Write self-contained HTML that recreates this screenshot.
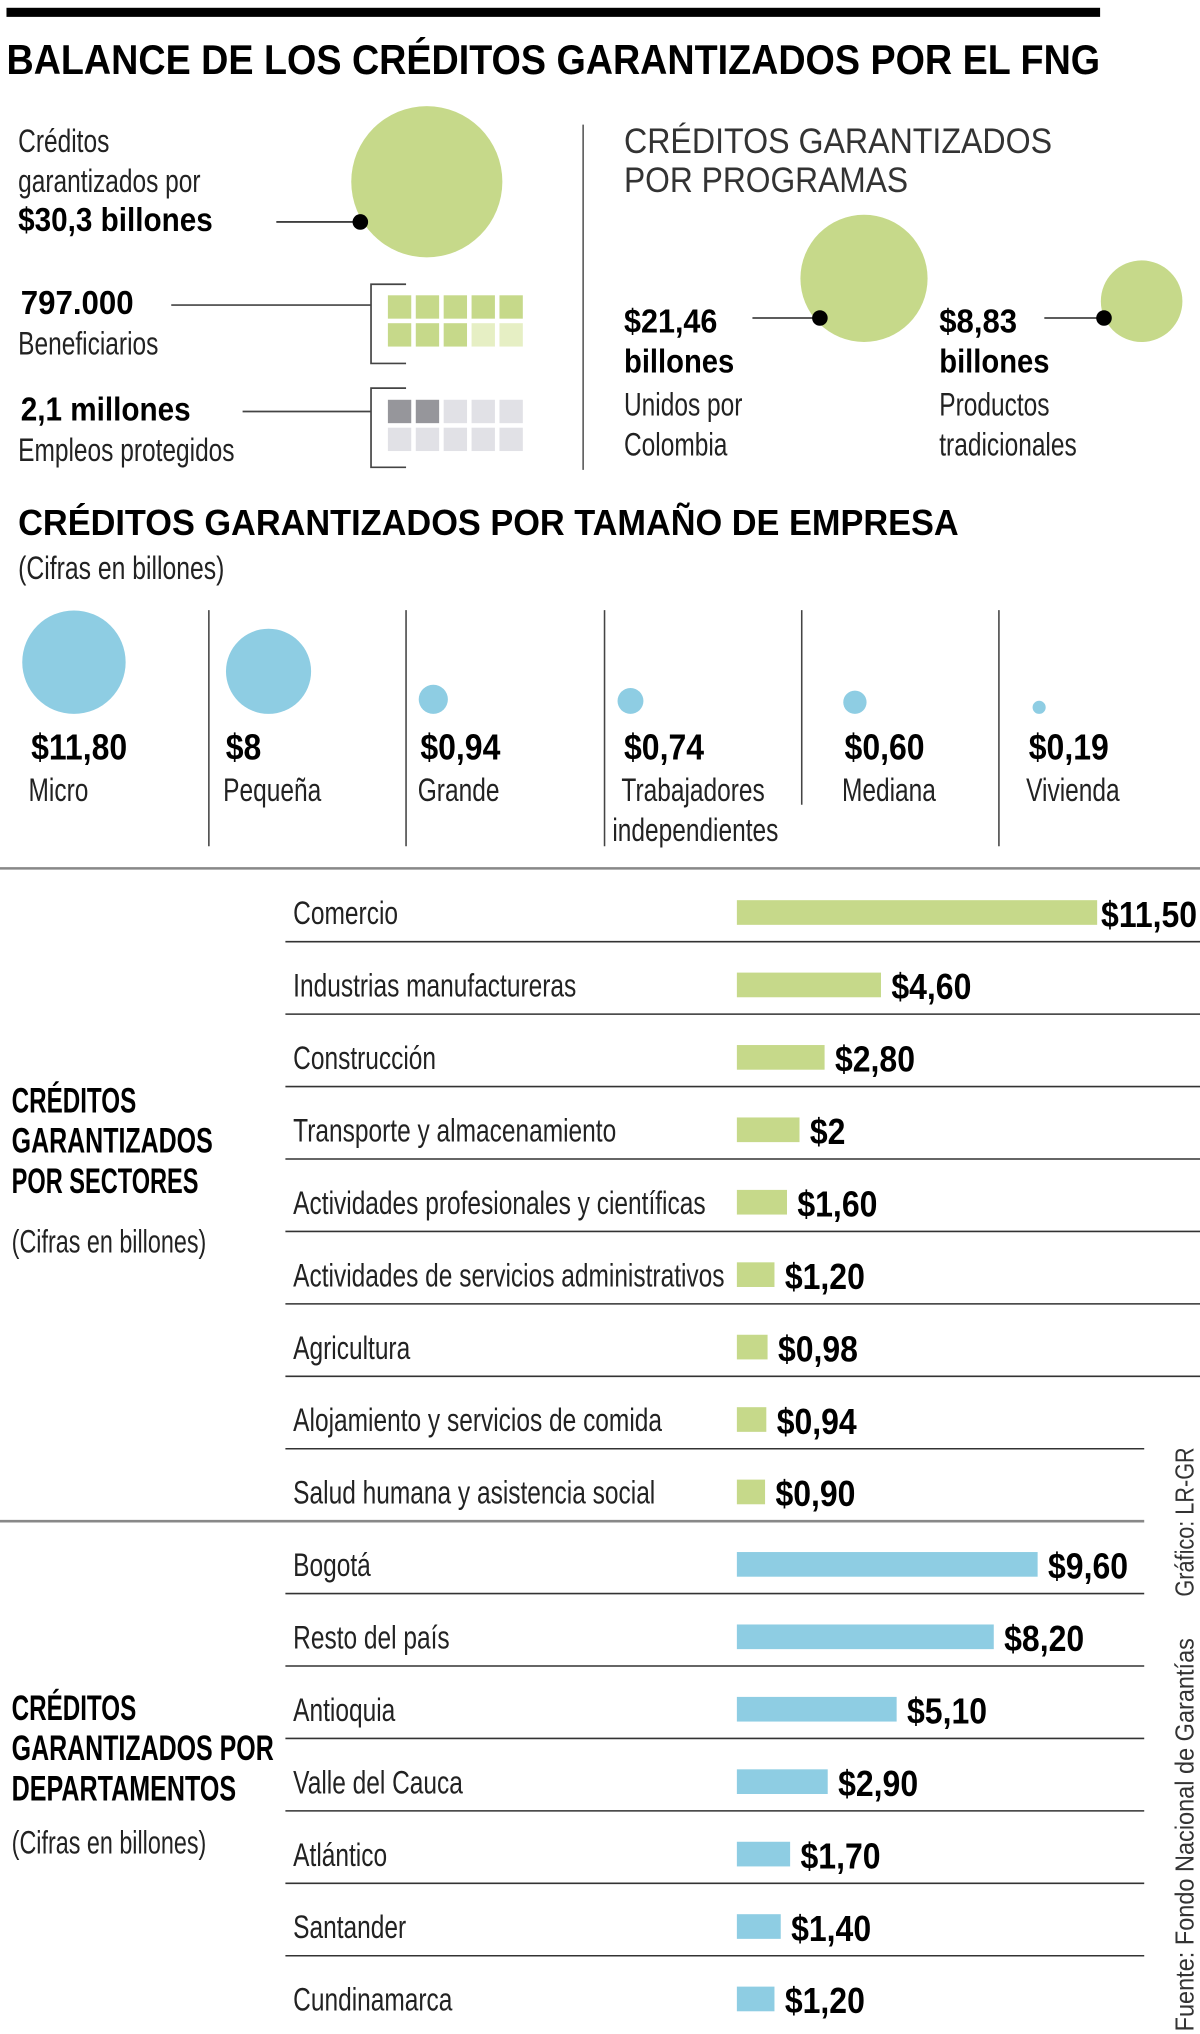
<!DOCTYPE html>
<html><head><meta charset="utf-8"><style>
html,body{margin:0;padding:0;background:#fff;}
svg{display:block;}
text{font-family:"Liberation Sans Narrow","Liberation Sans",sans-serif;fill:#1a1a1a;}
.b{font-weight:bold;fill:#000;}
.l{font-size:25px;fill:#222;}
</style></head><body>
<svg id="chart" width="1200" height="2034" viewBox="0 0 925 1567" preserveAspectRatio="none" xmlns="http://www.w3.org/2000/svg">
<rect x="5" y="6" width="843" height="7" fill="#000"/>
<text class="b" x="5" y="57" font-size="32" textLength="843" lengthAdjust="spacingAndGlyphs">BALANCE DE LOS CRÉDITOS GARANTIZADOS POR EL FNG</text>

<g>
<text class="l" x="14" y="117">Créditos</text>
<text class="l" x="14" y="148">garantizados por</text>
<text class="b" x="14" y="178" font-size="26" textLength="150" lengthAdjust="spacingAndGlyphs">$30,3 billones</text>
<line x1="213" y1="171" x2="278" y2="171" stroke="#222" stroke-width="1.3"/>
</g>
<g id="totalBubble"></g>

<g>
<text class="b" x="16" y="242" font-size="26" textLength="87" lengthAdjust="spacingAndGlyphs">797.000</text>
<text class="l" x="14" y="273">Beneficiarios</text>
<line x1="132" y1="235" x2="286" y2="235" stroke="#444" stroke-width="1.3"/>
<path d="M313 219 H286 V280 H313" fill="none" stroke="#444" stroke-width="1.3"/>
</g>
<g>
<text class="b" x="16" y="324" font-size="26" textLength="131" lengthAdjust="spacingAndGlyphs">2,1 millones</text>
<text class="l" x="14" y="355">Empleos protegidos</text>
<line x1="187" y1="317" x2="286" y2="317" stroke="#444" stroke-width="1.3"/>
<path d="M313 299 H286 V360 H313" fill="none" stroke="#444" stroke-width="1.3"/>
</g>
<g id="grids"></g>
<line x1="449.5" y1="96" x2="449.5" y2="362" stroke="#555" stroke-width="1.2"/>

<g>
<text x="481" y="118" font-size="27" textLength="330" lengthAdjust="spacingAndGlyphs" style="fill:#333">CRÉDITOS GARANTIZADOS</text>
<text x="481" y="148" font-size="27" textLength="219" lengthAdjust="spacingAndGlyphs" style="fill:#333">POR PROGRAMAS</text>
<text class="b" x="481" y="256" font-size="26" textLength="72" lengthAdjust="spacingAndGlyphs">$21,46</text>
<text class="b" x="481" y="287" font-size="26" textLength="85" lengthAdjust="spacingAndGlyphs">billones</text>
<text class="l" x="481" y="320">Unidos por</text>
<text class="l" x="481" y="351">Colombia</text>
<text class="b" x="724" y="256" font-size="26" textLength="60" lengthAdjust="spacingAndGlyphs">$8,83</text>
<text class="b" x="724" y="287" font-size="26" textLength="85" lengthAdjust="spacingAndGlyphs">billones</text>
<text class="l" x="724" y="320">Productos</text>
<text class="l" x="724" y="351">tradicionales</text>
<line x1="580" y1="245" x2="632" y2="245" stroke="#444" stroke-width="1.3"/>
<line x1="805" y1="245" x2="851" y2="245" stroke="#444" stroke-width="1.3"/>
</g>
<g id="progBubbles"></g>

<text class="b" x="14" y="412" font-size="28" textLength="725" lengthAdjust="spacingAndGlyphs">CRÉDITOS GARANTIZADOS POR TAMAÑO DE EMPRESA</text>
<text class="l" x="14" y="446" textLength="159" lengthAdjust="spacingAndGlyphs">(Cifras en billones)</text>
<g id="sizeChart"></g>
<line x1="0" y1="669" x2="925" y2="669" stroke="#888" stroke-width="2"/>

<g>
<text class="b" x="9" y="857" font-size="27" textLength="96" lengthAdjust="spacingAndGlyphs">CRÉDITOS</text>
<text class="b" x="9" y="888" font-size="27" textLength="155" lengthAdjust="spacingAndGlyphs">GARANTIZADOS</text>
<text class="b" x="9" y="919" font-size="27" textLength="144" lengthAdjust="spacingAndGlyphs">POR SECTORES</text>
<text class="l" x="9" y="965" textLength="150" lengthAdjust="spacingAndGlyphs">(Cifras en billones)</text>
</g>
<g>
<text class="b" x="9" y="1325" font-size="27" textLength="96" lengthAdjust="spacingAndGlyphs">CRÉDITOS</text>
<text class="b" x="9" y="1356" font-size="27" textLength="202" lengthAdjust="spacingAndGlyphs">GARANTIZADOS POR</text>
<text class="b" x="9" y="1387" font-size="27" textLength="173" lengthAdjust="spacingAndGlyphs">DEPARTAMENTOS</text>
<text class="l" x="9" y="1428" textLength="150" lengthAdjust="spacingAndGlyphs">(Cifras en billones)</text>
</g>
<g id="bars"></g>
<text x="0" y="0" font-size="20" transform="translate(920,1230) rotate(-90)" textLength="115" lengthAdjust="spacingAndGlyphs" style="fill:#333">Gráfico: LR-GR</text>
<text x="0" y="0" font-size="20" transform="translate(920,1565) rotate(-90)" textLength="303" lengthAdjust="spacingAndGlyphs" style="fill:#333">Fuente: Fondo Nacional de Garantías</text>
</svg>
<script>
const NS="http://www.w3.org/2000/svg";
const GREEN="#c6d98a", BLUE="#8ecde3";
// data
const totalCredit=30.3;
const programValues=[21.46,8.83];
const sizeCategories=["Micro","Pequeña","Grande","Trabajadores","Mediana","Vivienda"];
const sizeLabels2=["","","","independientes","",""];
const sizeValues=[11.80,8,0.94,0.74,0.60,0.19];
const sizeValueLabels=["$11,80","$8","$0,94","$0,74","$0,60","$0,19"];
const sectors=["Comercio","Industrias manufactureras","Construcción","Transporte y almacenamiento","Actividades profesionales y científicas","Actividades de servicios administrativos","Agricultura","Alojamiento y servicios de comida","Salud humana y asistencia social"];
const sectorValues=[11.50,4.60,2.80,2,1.60,1.20,0.98,0.94,0.90];
const sectorValueLabels=["$11,50","$4,60","$2,80","$2","$1,60","$1,20","$0,98","$0,94","$0,90"];
const departments=["Bogotá","Resto del país","Antioquia","Valle del Cauca","Atlántico","Santander","Cundinamarca"];
const deptValues=[9.60,8.20,5.10,2.90,1.70,1.40,1.20];
const deptValueLabels=["$9,60","$8,20","$5,10","$2,90","$1,70","$1,40","$1,20"];
const beneficiaryFilled=8, jobsFilled=2;

function mk(tag,attrs,parent){const e=document.createElementNS(NS,tag);for(const k in attrs)e.setAttribute(k,attrs[k]);parent.appendChild(e);return e;}
const rBig=v=>10.58*Math.sqrt(v);
const rSize=v=>11.6*Math.sqrt(v);
const xBar=v=>24.15*v;

{const g=document.getElementById('totalBubble');const r=rBig(totalCredit);
const c=mk('circle',{cx:329,cy:140,r:r,fill:GREEN},g);


const d=mk('circle',{cx:329-r*0.88,cy:171,r:6,fill:"#000"},g);

}
{const g=document.getElementById('progBubbles');
const cx=[666,880], dotX=[632,851], bottom=263.5;
programValues.forEach((v,i)=>{const r=rBig(v);
const c=mk('circle',{cx:cx[i],cy:bottom-r,r:r,fill:GREEN},g);


const d=mk('circle',{cx:dotX[i],cy:245,r:6,fill:"#000"},g);

});}
{const g=document.getElementById('grids');
function grid(y0,filled,on,off,name){for(let k=0;k<10;k++){const col=k%5,row=Math.floor(k/5);
const s=mk('rect',{x:299+col*21.5,y:y0+row*21.5,width:18,height:18,fill:k<filled?on:off},g);

}}
grid(227.5,beneficiaryFilled,GREEN,"#e6efc4",'beneficiaries');
grid(308,jobsFilled,"#96969b","#e1e1e6",'jobs');}
{const g=document.getElementById('sizeChart');
const textX=[24,174,324,481,651,793], circX=[57,207,334,486,659,801], divX=[161,313,466,618,770], divEnd=[652,652,652,620,652];
sizeValues.forEach((v,i)=>{const r=rSize(v);
const c=mk('circle',{cx:circX[i],cy:550-r,r:r,fill:BLUE},g);


const t=mk('text',{x:textX[i],y:585,class:'b','font-size':28},g);t.textContent=sizeValueLabels[i];


const l=mk('text',{x:textX[i]-2,y:617,class:'l'},g);l.textContent=sizeCategories[i];


if(sizeLabels2[i]){const l2=mk('text',{x:textX[i]-9,y:648,class:'l'},g);l2.textContent=sizeLabels2[i];

}});
divX.forEach((x,i)=>{const ln=mk('line',{x1:x,y1:470,x2:x,y2:divEnd[i],stroke:"#444","stroke-width":1.2},g);

});}
{const g=document.getElementById('bars');
const x0=568, y0=703, step=55.8, bh=19;
const rows=[];
sectors.forEach((s,i)=>rows.push({label:s,v:sectorValues[i],t:sectorValueLabels[i],color:GREEN,kind:'sector'}));
departments.forEach((s,i)=>rows.push({label:s,v:deptValues[i],t:deptValueLabels[i],color:BLUE,kind:'department'}));
rows.forEach((r,i)=>{const yc=y0+i*step;
const lb=mk('text',{x:226,y:yc+9,class:'l'},g);lb.textContent=r.label;


const w=xBar(r.v);
const b=mk('rect',{x:x0,y:yc-bh/2,width:w,height:bh,fill:r.color},g);


const vt=mk('text',{x:x0+w+(r.v>10?3:8),y:yc+11,class:'b','font-size':28},g);vt.textContent=r.t;


if(i<rows.length-1){const ly=yc+22.5;const isSec=(i===sectors.length-1);
const ln=mk('line',{x1:isSec?0:220,y1:ly,x2:ly>1100?882:925,y2:ly,stroke:isSec?"#888":"#333","stroke-width":isSec?2:1.2},g);

}});}
// condense text lacking explicit length (fallback font is wider than the original condensed face)
document.querySelectorAll('#chart text').forEach(t=>{
  if(t.hasAttribute('textLength'))return;
  const len=t.getComputedTextLength();
  const f=t.classList.contains('b')?0.88:0.755;
  t.setAttribute('textLength',(len*f).toFixed(1));
  t.setAttribute('lengthAdjust','spacingAndGlyphs');
});
</script>
</body></html>
